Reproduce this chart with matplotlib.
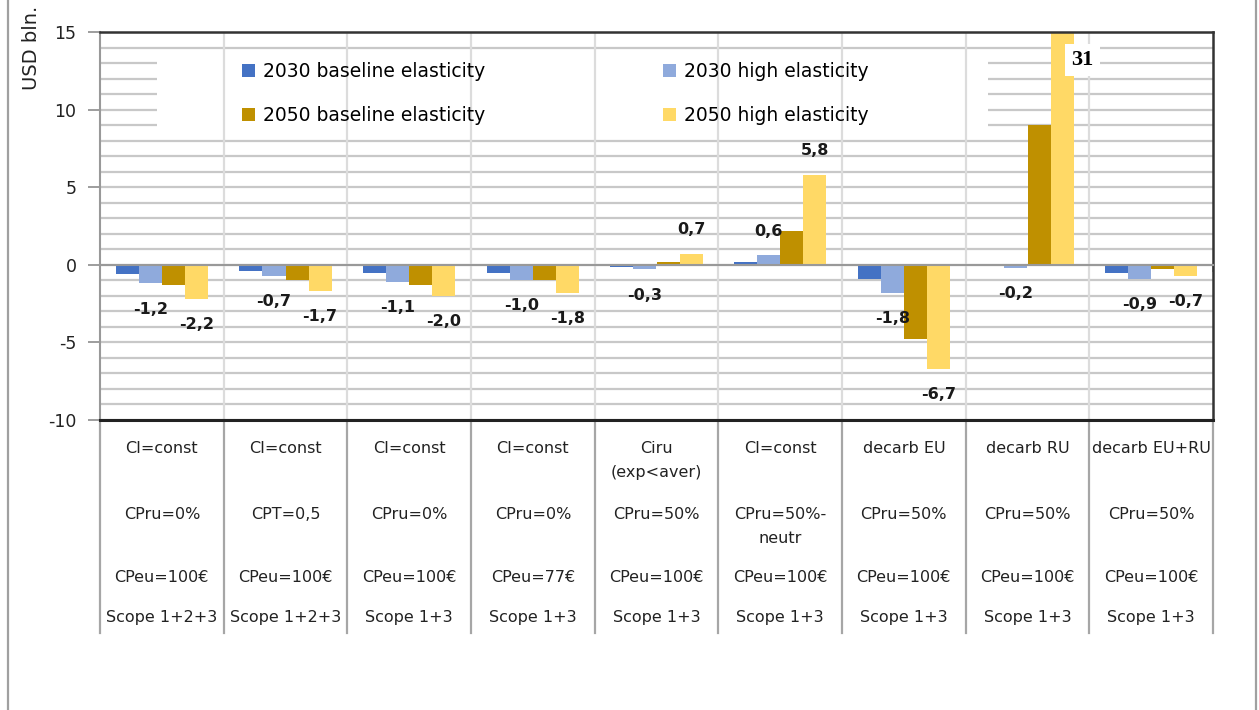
import matplotlib
matplotlib.use("Agg")
import matplotlib.pyplot as plt
import numpy as np
from matplotlib.patches import Rectangle
from matplotlib.lines import Line2D
from matplotlib.transforms import blended_transform_factory

plt.rcParams['font.family'] = ['DejaVu Sans']
plt.rcParams['axes.unicode_minus'] = False

row1 = ["CI=const", "CI=const", "CI=const", "CI=const", "Ciru\n(exp<aver)",
        "CI=const", "decarb EU", "decarb RU", "decarb EU+RU"]
row2 = ["CPru=0%", "CPT=0,5", "CPru=0%", "CPru=0%", "CPru=50%",
        "CPru=50%-\nneutr", "CPru=50%", "CPru=50%", "CPru=50%"]
row3 = ["CPeu=100€", "CPeu=100€", "CPeu=100€", "CPeu=77€", "CPeu=100€",
        "CPeu=100€", "CPeu=100€", "CPeu=100€", "CPeu=100€"]
row4 = ["Scope 1+2+3", "Scope 1+2+3", "Scope 1+3", "Scope 1+3", "Scope 1+3",
        "Scope 1+3", "Scope 1+3", "Scope 1+3", "Scope 1+3"]

series = ["2030 baseline elasticity", "2030 high elasticity",
          "2050 baseline elasticity", "2050 high elasticity"]
base_2030 = [-0.6, -0.4, -0.5, -0.5, -0.15, 0.15, -0.9, -0.1, -0.5]
high_2030 = [-1.2, -0.7, -1.1, -1.0, -0.3, 0.6, -1.8, -0.2, -0.9]
base_2050 = [-1.3, -1.0, -1.3, -1.0, 0.2, 2.2, -4.8, 9.0, -0.25]
high_2050 = [-2.2, -1.7, -2.0, -1.8, 0.7, 5.8, -6.7, 31.0, -0.7]
colors = ["#4472C4", "#8FAADC", "#BF9000", "#FFD966"]

W, H = 1259, 710
fig = plt.figure(figsize=(W / 100, H / 100), dpi=100)
ax = fig.add_axes([100 / W, 1 - 420 / H, 1113 / W, 388 / H])

YMIN, YMAX = -10, 15
n = len(row1)
x = np.arange(n)
bw = 0.186
values = [base_2030, high_2030, base_2050, high_2050]
bars = []
for i, (vals, c, name) in enumerate(zip(values, colors, series)):
    bars.append(ax.bar(x + (i - 1.5) * bw, vals, bw, color=c, label=name, zorder=2))

ax.set_xlim(-0.5, n - 0.5)
ax.set_ylim(YMIN, YMAX)

# horizontal grid every unit, labels every 5
ax.set_yticks(np.arange(YMIN, YMAX + 1, 5))
ax.set_yticks(np.arange(YMIN, YMAX + 1, 1), minor=True)
ax.yaxis.grid(True, which='both', color='#c8c8c8', linewidth=1.6, zorder=0.5)
ax.set_axisbelow(True)
ax.tick_params(axis='y', which='major', length=9, width=1.2, color='#8c8c8c',
               labelsize=12.5, pad=8, labelcolor='#222222')
ax.tick_params(axis='y', which='minor', length=0)

# category axis sits at zero
ax.spines['bottom'].set_position(('data', 0))
ax.spines['bottom'].set_color('#999999')
ax.spines['bottom'].set_linewidth(1.5)
ax.set_xticks(np.arange(-0.5, n, 1.0))
ax.set_xticklabels([])
ax.tick_params(axis='x', length=5, width=1.2, color='#999999')
ax.spines['left'].set_color('#999999')
ax.spines['left'].set_linewidth(1.5)
for s in ['top', 'right']:
    ax.spines[s].set_color('#333333')
    ax.spines[s].set_linewidth(1.8)
ax.axhline(YMIN, color='#222222', linewidth=2.2, clip_on=False, zorder=3)

# white panel behind the legend
ax.add_patch(Rectangle((157 / W, 1 - 135 / H), (988 - 157) / W, 80 / H,
                       transform=fig.transFigure, facecolor='white',
                       edgecolor='none', zorder=0.8))

# category separators, plot area and table below
tr = blended_transform_factory(ax.transData, fig.transFigure)
for b in np.arange(-0.5, n, 1.0):
    if -0.5 < b < n - 0.5:
        ax.plot([b, b], [YMIN, YMAX], color='#dcdcdc', linewidth=1.6, zorder=0.9)
    ax.plot([b, b], [1 - 420 / H, 1 - 633 / H], transform=tr, color='#a6a6a6',
            linewidth=1.6, clip_on=False)

# table text
for rows, ypx in [(row1, 441), (row2, 507), (row3, 570), (row4, 610)]:
    for i, t in enumerate(rows):
        ax.text(i, 1 - ypx / H, t, transform=tr, ha='center', va='top',
                fontsize=11.5, color='#222222', linespacing=1.75)

# value labels for the high-elasticity series
def fmt(v):
    return f"{v:.1f}".replace('.', ',')

for i, vals in [(1, high_2030), (3, high_2050)]:
    for j, v in enumerate(vals):
        xp = j + (i - 1.5) * bw
        if v > YMAX:
            ax.text(xp + 0.165, YMAX - 1.8, f"{v:.0f}", ha='center', va='center',
                    fontsize=16, fontweight='bold', family='Liberation Serif',
                    zorder=5, bbox=dict(facecolor='white', edgecolor='none',
                                        pad=4.5))
        elif v >= 0:
            ax.text(xp, v + 1.55, fmt(v), ha='center', va='center',
                    fontsize=11.5, fontweight='bold', color='#1a1a1a', zorder=5)
        else:
            ax.text(xp, v - 1.65, fmt(v), ha='center', va='center',
                    fontsize=11.5, fontweight='bold', color='#1a1a1a', zorder=5)

# two columns, filled row by row
order = [0, 2, 1, 3]
ax.legend([bars[k] for k in order], [series[k] for k in order], ncol=2,
          frameon=False, fontsize=13.5,
          loc='upper left', bbox_to_anchor=(242 / W, 1 - 62 / H),
          bbox_transform=fig.transFigure, handlelength=0.7, handleheight=0.7,
          handletextpad=0.4, columnspacing=9.5, labelspacing=1.33,
          borderpad=0, borderaxespad=0)

fig.text(32 / W, 1 - 6 / H, "USD bln.", rotation=90, ha='center', va='top',
         fontsize=14, color='#222222')

# outer frame lines
for xpx in (8, 1256):
    fig.add_artist(Line2D([xpx / W, xpx / W], [0, 1], color='#a0a0a0',
                          linewidth=1.6))

fig.savefig("out.png", dpi=100)
